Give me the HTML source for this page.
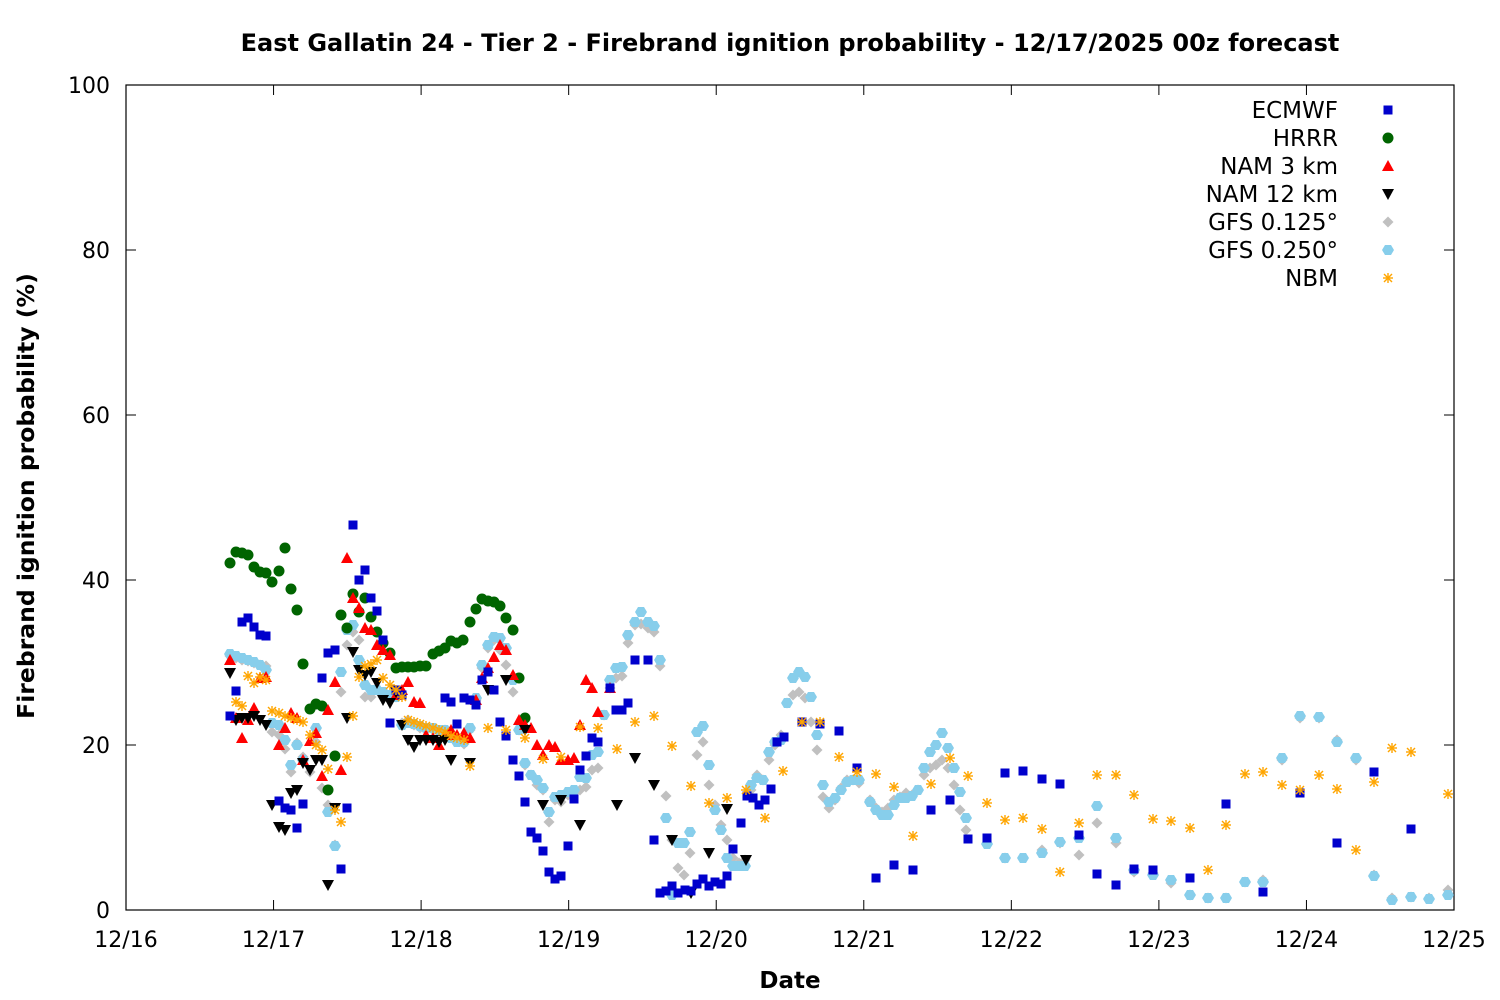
<!DOCTYPE html>
<html><head><meta charset="utf-8"><style>
html,body{margin:0;padding:0;background:#fff;}
svg{display:block;font-family:"DejaVu Sans","Liberation Sans",sans-serif;}
</style></head><body>
<svg id="s" width="1500" height="1000" xmlns="http://www.w3.org/2000/svg">
<rect width="1500" height="1000" fill="#fff"/>
<text x="790" y="51" text-anchor="middle" font-size="24" font-weight="bold">East Gallatin 24 - Tier 2 - Firebrand ignition probability - 12/17/2025 00z forecast</text>
<g id="axes" stroke="#000" stroke-width="1.2" fill="none">
<rect x="126" y="85" width="1328" height="825"/>
</g>
<g id="ticks"></g>
<text x="790" y="988" text-anchor="middle" font-size="23" font-weight="bold">Date</text>
<text transform="translate(34,496) rotate(-90)" text-anchor="middle" font-size="23.5" font-weight="bold">Firebrand ignition probability (%)</text>
<g id="data"></g>
<g id="leg" font-size="23" text-anchor="end"></g>
</svg>
<script>
const NS="http://www.w3.org/2000/svg";
function el(t,a,p,txt){const e=document.createElementNS(NS,t);for(const k in a)e.setAttribute(k,a[k]);if(txt!==undefined)e.textContent=txt;p.appendChild(e);return e;}
const tk=document.getElementById('ticks');
const labs=['12/16','12/17','12/18','12/19','12/20','12/21','12/22','12/23','12/24','12/25'];
for(let i=0;i<10;i++){const x=126+i*1328/9;
 el('line',{x1:x,y1:910,x2:x,y2:900,stroke:'#000'},tk);el('line',{x1:x,y1:85,x2:x,y2:95,stroke:'#000'},tk);
 el('text',{x:x,y:947,'text-anchor':'middle','font-size':22},tk,labs[i]);}
for(let v=0;v<=100;v+=20){const y=910-v*8.25;
 el('line',{x1:126,y1:y,x2:136,y2:y,stroke:'#000'},tk);el('line',{x1:1454,y1:y,x2:1444,y2:y,stroke:'#000'},tk);
 el('text',{x:110,y:y+8,'text-anchor':'end','font-size':22},tk,String(v));}
const D=document.getElementById('data');
function mk(type,x,y,p){
 if(type==='sq')el('rect',{x:x-4.5,y:y-4.5,width:9,height:9,fill:'#0000cc'},p);
 else if(type==='ci')el('circle',{cx:x,cy:y,r:5.5,fill:'#006400'},p);
 else if(type==='up')el('polygon',{points:`${x},${y-6} ${x+6},${y+5} ${x-6},${y+5}`,fill:'#ff0000'},p);
 else if(type==='dn')el('polygon',{points:`${x-6},${y-5} ${x+6},${y-5} ${x},${y+6}`,fill:'#000'},p);
 else if(type==='di')el('polygon',{points:`${x},${y-5.5} ${x+5.5},${y} ${x},${y+5.5} ${x-5.5},${y}`,fill:'#c0c0c0'},p);
 else if(type==='hx')el('polygon',{points:`${x-3},${y-5} ${x+3},${y-5} ${x+6},${y} ${x+3},${y+5} ${x-3},${y+5} ${x-6},${y}`,fill:'#87ceeb'},p);
 else if(type==='st'){const g=el('g',{stroke:'#ffa500','stroke-width':1.4},p);
  el('line',{x1:x-5,y1:y,x2:x+5,y2:y},g);el('line',{x1:x,y1:y-5,x2:x,y2:y+5},g);
  el('line',{x1:x-4,y1:y-4,x2:x+4,y2:y+4},g);el('line',{x1:x-4,y1:y+4,x2:x+4,y2:y-4},g);}
}
function P(s){const a=s.split(/[(),\s]+/).filter(Boolean).map(Number);const r=[];for(let i=0;i+1<a.length;i+=2)r.push([a[i],a[i+1]]);return r;}
const S={
di:"(230,656),(236,658),(242,660),(248,661),(254,663),(260,665),(266,666),(272,732),(279,735),(285,749),(291,772),(297,743),(303,757),(310,772),(316,742),(322,788),(328,805),(335,845),(341,692),(347,645),(353,632),(359,640),(365,697),(371,697),(377,690),(383,697),(390,697),(396,697),(402,723),(408,720),(414,725),(420,728),(426,730),(433,730),(439,732),(445,730),(451,735),(457,740),(464,744),(470,730),(476,700),(482,668),(488,648),(494,640),(500,650),(506,665),(513,692),(519,730),(525,765),(531,775),(537,785),(543,790),(549,822),(555,800),(561,802),(568,795),(574,793),(580,790),(586,787),(592,770),(598,768),(604,715),(610,688),(616,678),(622,676),(628,643),(635,625),(641,624),(648,628),(654,632),(660,666),(666,796),(672,840),(678,868),(684,875),(690,853),(697,755),(703,742),(709,785),(715,805),(721,825),(727,840),(733,858),(739,863),(745,860),(751,790),(757,775),(763,780),(769,760),(775,745),(781,735),(787,703),(793,695),(799,692),(805,698),(811,722),(817,750),(823,797),(829,808),(835,800),(841,788),(847,780),(853,780),(859,783),(870,800),(876,808),(882,812),(888,808),(894,800),(900,797),(906,793),(912,795),(918,790),(924,775),(930,768),(936,765),(942,760),(948,768),(954,785),(960,810),(966,830),(987,843),(1005,858),(1042,850),(1060,843),(1079,855),(1097,823),(1116,843),(1134,872),(1153,873),(1171,883),(1190,895),(1208,898),(1226,898),(1245,882),(1263,880),(1282,760),(1300,718),(1319,718),(1337,740),(1356,760),(1374,875),(1392,898),(1411,897),(1429,898),(1448,890)",
hx:"(230,654),(236,656),(242,658),(248,660),(254,662),(260,665),(266,670),(272,723),(279,725),(285,740),(291,765),(297,745),(303,760),(316,728),(328,812),(335,846),(341,672),(347,630),(353,625),(359,660),(365,685),(371,690),(377,690),(383,692),(390,695),(396,697),(402,725),(408,723),(414,724),(420,726),(426,728),(433,728),(439,730),(445,730),(451,738),(457,742),(464,742),(470,728),(476,698),(482,665),(488,645),(494,637),(500,638),(506,648),(513,680),(519,730),(525,763),(531,775),(537,780),(543,788),(549,812),(555,797),(561,795),(568,792),(574,790),(580,777),(586,778),(592,755),(598,752),(604,715),(610,680),(616,668),(622,667),(628,635),(635,622),(641,612),(648,622),(654,626),(660,660),(666,818),(672,895),(678,843),(684,843),(690,832),(697,732),(703,726),(709,765),(715,810),(721,830),(727,858),(733,866),(739,866),(745,866),(751,785),(757,778),(763,780),(769,752),(775,742),(781,740),(787,703),(793,678),(799,672),(805,677),(811,697),(817,735),(823,785),(829,802),(835,798),(841,790),(847,782),(853,780),(859,780),(870,802),(876,810),(882,815),(888,815),(894,805),(900,798),(906,798),(912,796),(918,790),(924,768),(930,752),(936,745),(942,733),(948,748),(954,768),(960,792),(966,818),(987,844),(1005,858),(1023,858),(1042,853),(1060,842),(1079,838),(1097,806),(1116,838),(1134,870),(1153,875),(1171,880),(1190,895),(1208,898),(1226,898),(1245,882),(1263,882),(1282,758),(1300,716),(1319,717),(1337,742),(1356,758),(1374,876),(1392,900),(1411,897),(1429,899),(1448,895)",
ci:"(230,563),(236,552),(242,553),(248,555),(254,567),(260,572),(266,573),(272,582),(279,571),(285,548),(291,589),(297,610),(303,664),(310,709),(316,704),(322,706),(328,790),(335,756),(341,615),(347,628),(353,594),(359,612),(365,598),(371,617),(377,632),(383,643),(390,653),(396,668),(402,667),(408,667),(414,667),(420,666),(426,666),(433,654),(439,651),(445,648),(451,641),(457,643),(463,640),(470,622),(476,609),(482,599),(488,601),(494,602),(500,606),(506,618),(513,630),(519,678),(525,718)",
up:"(230,660),(236,718),(242,738),(248,720),(254,708),(260,678),(266,677),(279,745),(285,728),(291,713),(297,718),(303,760),(310,741),(316,733),(322,776),(328,710),(335,682),(341,770),(347,558),(353,598),(359,608),(365,628),(371,630),(377,645),(383,650),(390,655),(396,695),(402,690),(408,682),(414,702),(420,703),(426,735),(433,738),(439,745),(445,735),(451,730),(457,735),(464,733),(470,738),(476,700),(482,678),(488,668),(494,657),(500,645),(506,650),(513,675),(519,720),(525,725),(531,728),(537,745),(543,755),(549,745),(555,747),(561,760),(568,760),(574,758),(580,725),(586,680),(592,688),(598,712),(610,688)",
dn:"(230,673),(236,720),(242,718),(248,718),(254,716),(260,720),(266,725),(272,805),(279,827),(285,830),(291,793),(297,790),(303,763),(310,770),(316,760),(322,760),(328,885),(335,808),(347,718),(353,652),(359,670),(365,675),(371,672),(377,683),(383,700),(390,703),(396,692),(402,725),(408,740),(414,747),(420,740),(426,740),(433,740),(439,742),(445,740),(451,760),(470,763),(488,690),(506,680),(525,730),(543,805),(561,800),(580,825),(617,805),(635,758),(654,785),(672,840),(691,893),(709,853),(727,809),(746,860)",
sq:"(230,716),(236,691),(242,622),(248,618),(254,627),(260,635),(266,636),(279,801),(285,808),(291,810),(297,828),(303,804),(322,678),(328,653),(335,650),(341,869),(347,808),(353,525),(359,580),(365,570),(371,598),(377,611),(383,640),(390,723),(396,690),(402,695),(445,698),(451,702),(457,724),(464,698),(470,700),(476,705),(482,680),(488,672),(494,690),(500,722),(506,736),(513,760),(519,776),(525,802),(531,832),(537,838),(543,851),(549,872),(555,879),(561,876),(568,846),(574,799),(580,770),(586,756),(592,738),(598,742),(610,688),(616,710),(622,710),(628,703),(635,660),(648,660),(654,840),(660,893),(666,891),(672,886),(678,893),(685,890),(691,891),(697,884),(703,879),(709,886),(715,882),(721,884),(727,876),(733,849),(741,823),(747,796),(753,798),(759,805),(765,800),(771,789),(777,742),(784,737),(802,722),(820,724),(839,731),(857,768),(876,878),(894,865),(913,870),(931,810),(950,800),(968,839),(987,838),(1005,773),(1023,771),(1042,779),(1060,784),(1079,835),(1097,874),(1116,885),(1134,869),(1153,870),(1190,878),(1226,804),(1263,892),(1300,793),(1337,843),(1374,772),(1411,829)",
st:"(236,702),(242,706),(248,676),(254,683),(260,677),(266,680),(272,711),(279,713),(285,716),(291,718),(297,720),(303,722),(310,735),(316,745),(322,750),(328,769),(335,810),(341,822),(347,757),(353,716),(359,677),(365,666),(371,664),(377,660),(383,678),(390,685),(396,690),(402,697),(408,720),(414,722),(420,724),(426,726),(433,728),(439,730),(445,732),(451,736),(457,738),(464,740),(470,766),(488,728),(506,730),(525,738),(543,759),(561,757),(580,727),(598,728),(617,749),(635,722),(654,716),(672,746),(691,786),(709,803),(727,798),(746,790),(765,818),(783,771),(802,722),(820,722),(839,757),(857,772),(876,774),(894,787),(913,836),(931,784),(950,758),(968,776),(987,803),(1005,820),(1023,818),(1042,829),(1060,872),(1079,823),(1097,775),(1116,775),(1134,795),(1153,819),(1171,821),(1190,828),(1208,870),(1226,825),(1245,774),(1263,772),(1282,785),(1300,790),(1319,775),(1337,789),(1356,850),(1374,782),(1392,748),(1411,752),(1448,794)"
};
for(const t of ['di','hx','ci','up','dn','sq','st'])for(const [x,y] of P(S[t]))mk(t,x,y,D);
const L=document.getElementById('leg');
const items=[['sq','ECMWF'],['ci','HRRR'],['up','NAM 3 km'],['dn','NAM 12 km'],['di','GFS 0.125°'],['hx','GFS 0.250°'],['st','NBM']];
items.forEach((it,i)=>{const y=110+i*28;el('text',{x:1338,y:y+8},L,it[1]);mk(it[0],1388,y,L);});
</script>
</body></html>
